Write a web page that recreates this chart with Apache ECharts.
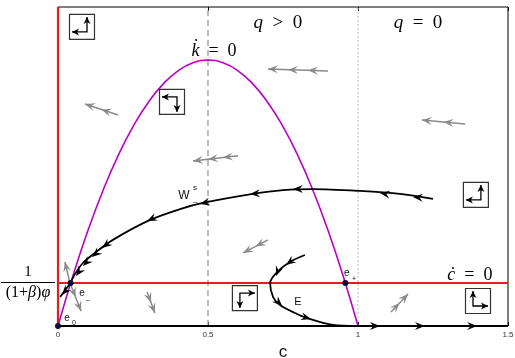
<!DOCTYPE html>
<html>
<head>
<meta charset="utf-8">
<script src="https://cdn.jsdelivr.net/npm/echarts@6/dist/echarts.min.js"></script>
</head>
<body style="margin:0">
<div id="container" style="width:515px;height:358px"></div>
<script>
// phase diagram (c, k)
var xTicks = [0, 0.5, 1, 1.5];
var kStar = 0.162;   // 1/((1+beta)phi)

// k-dot = 0 curve
var kNull = [[0,0],[0.05,0.19],[0.1,0.36],[0.15,0.51],[0.2,0.64],[0.25,0.75],[0.3,0.84],[0.35,0.91],[0.4,0.96],[0.45,0.99],[0.5,1.0],
  [0.55,0.99],[0.6,0.96],[0.65,0.91],[0.7,0.84],[0.75,0.75],[0.8,0.64],[0.85,0.51],[0.9,0.36],[0.95,0.19],[1.0,0]];
// stable manifold W_-^s
var wStable = [[1.25,0.478],[1.14,0.497],[1.007,0.508],[0.85,0.515],[0.75,0.511],[0.65,0.497],[0.483,0.463],[0.407,0.44],
  [0.307,0.399],[0.183,0.324],[0.123,0.275],[0.083,0.237],[0.057,0.196],[0.0417,0.162]];
var wTail = [[0.0417,0.162],[0.025,0.136],[0.007,0.109]];
// orbit E
var orbitE = [[0.823,0.267],[0.773,0.241],[0.73,0.203],[0.707,0.162],[0.717,0.109],[0.74,0.079],[0.79,0.049],
  [0.83,0.03],[0.917,0.004],[1.0,0]];
var floorLine = [[0,0],[1,0],[1.5,0]];
var equilibria = [[0,0],[0.0417,0.162],[0.958,0.162]];

// arrowheads on trajectories: [c from, k from, c tip, k tip]
var trajArrows = [
  [1.223,0.482,1.183,0.485],[1.113,0.493,1.073,0.5],[0.823,0.515,0.783,0.515],[0.68,0.5,0.64,0.497],
  [0.513,0.47,0.473,0.459],[0.333,0.414,0.297,0.395],[0.173,0.316,0.147,0.293],[0.137,0.282,0.113,0.26],
  [0.103,0.248,0.083,0.226],[0.077,0.214,0.06,0.188],[0.027,0.135,0.013,0.117],
  [0.787,0.252,0.76,0.229],[0.737,0.218,0.727,0.188],[0.723,0.102,0.747,0.075],[0.807,0.038,0.843,0.026],
  [1.02,0,1.073,0],[1.17,0,1.223,0],[1.344,0,1.397,0]
];
// direction field: [c tail, k tail, c tip, k tip, heads]
var fieldArrows = [
  [0.2,0.794,0.09,0.835,2],[0.9,0.959,0.7,0.967,3],[0.6,0.64,0.45,0.621,3],[1.357,0.76,1.213,0.775,2],
  [0.7,0.324,0.617,0.275,2],[0.297,0.128,0.323,0.049,2],[0.04,0.162,0.023,0.241,1],[0.04,0.162,0.077,0.056,2],
  [1.11,0.053,1.167,0.12,2]
];
// region boxes: [c, k, horizontal sign, vertical sign]
var boxes = [[0.08,1.125,-1,1],[0.38,0.843,-1,-1],[1.393,0.493,-1,1],[0.623,0.105,1,-1],[1.4,0.094,1,1]];

var mathNotes = [[0.733,1.14,'{i|q}{r|  >  0}'],[1.2,1.14,'{i|q}{r|  =  0}'],
  [0.52,1.035,'{j|k\u0307}{s|  =  0}'],[1.373,0.192,'{j|c\u0307}{s|  =  0}']];
var tags = [[0.42,0.489,'W',12],[0.457,0.52,'s',8],[0.457,0.466,'\u2013',8],[0.8,0.09,'E',11],
  [0.963,0.199,'e',10],[0.987,0.177,'+',7],[0.08,0.124,'e',10],[0.1,0.098,'\u2013',7],[0.03,0.03,'e',10],[0.053,0.011,'0',7]];

function headPts(p, q, len, w, notch) {
  var dx = q[0] - p[0], dy = q[1] - p[1];
  var d = Math.sqrt(dx * dx + dy * dy) || 1;
  var ux = dx / d, uy = dy / d, nx = -uy, ny = ux;
  var bx = q[0] - ux * len, by = q[1] - uy * len;
  return [[q[0], q[1]], [bx + nx * w, by + ny * w], [q[0] - ux * (len - notch), q[1] - uy * (len - notch)], [bx - nx * w, by - ny * w]];
}

var dom = document.getElementById('container');
var myChart = echarts.init(dom);
var lineBase = { type: 'line', showSymbol: false, symbol: 'none', silent: true, z: 3 };

var option = {
  animation: false,
  grid: { left: 58, right: 7, top: 7, bottom: 32, show: true, borderColor: '#000', borderWidth: 1, backgroundColor: '#fff',
    containLabel: false, outerBoundsMode: 'none' },
  xAxis: [{
    type: 'value', min: 0, max: 1.5, interval: 0.5,
    name: 'c', nameLocation: 'middle', nameGap: 17,
    nameTextStyle: { fontSize: 17, color: '#111', fontFamily: 'Liberation Sans' },
    axisLine: { show: false },
    axisTick: { show: true, inside: true, length: 4, lineStyle: { color: '#000' } },
    splitLine: { show: false },
    axisLabel: { fontSize: 8, color: '#333', margin: 5, fontFamily: 'Liberation Sans',
      formatter: function (v) { return xTicks.indexOf(v) >= 0 ? String(v) : ''; } }
  }, {
    type: 'value', position: 'top', min: 0, max: 1.5, interval: 0.5,
    axisLine: { show: false }, axisLabel: { show: false }, splitLine: { show: false },
    axisTick: { show: true, inside: true, length: 4, lineStyle: { color: '#000' } }
  }],
  yAxis: {
    type: 'value', min: 0, max: 1.2,
    name: 'k', nameLocation: 'middle', nameGap: 13, nameRotate: 90,
    nameTextStyle: { fontSize: 17, color: '#111', fontFamily: 'Liberation Sans' },
    axisLine: { show: false }, axisTick: { show: false }, splitLine: { show: false },
    axisLabel: {
      customValues: [kStar], align: 'center', margin: 30,
      formatter: function () { return '{n|1}\n{b| }\n{d|(1+}{g|\u03b2}{d|)}{g|\u03c6}'; },
      rich: {
        n: { fontSize: 15, fontFamily: 'Liberation Serif', color: '#000', lineHeight: 15 },
        b: { fontSize: 1, width: 54, height: 1, lineHeight: 5, backgroundColor: '#000' },
        d: { fontSize: 16, fontFamily: 'Liberation Serif', color: '#000', lineHeight: 16 },
        g: { fontSize: 16, fontFamily: 'Liberation Serif', fontStyle: 'italic', color: '#000', lineHeight: 16 }
      }
    }
  },
  series: [
    Object.assign({}, lineBase, { data: [[0.5,0],[0.5,1.2]], lineStyle: { color: '#999', width: 1.3, type: [6, 4] }, z: 2 }),
    Object.assign({}, lineBase, { data: [[1,0],[1,1.2]], lineStyle: { color: '#bbb', width: 1, type: [2, 2] }, z: 2 }),
    Object.assign({}, lineBase, { data: kNull, smooth: true, lineStyle: { color: '#bb00c8', width: 1.6 } }),
    Object.assign({}, lineBase, { data: [[0,kStar],[1.5,kStar]], lineStyle: { color: '#dd2020', width: 2 } }),
    Object.assign({}, lineBase, { data: [[0,0],[0,1.2]], lineStyle: { color: '#dd2020', width: 2.2 } }),
    Object.assign({}, lineBase, { data: wStable, smooth: 0.3, lineStyle: { color: '#000', width: 1.8 }, z: 4 }),
    Object.assign({}, lineBase, { data: wTail, lineStyle: { color: '#000', width: 1.8 }, z: 4 }),
    Object.assign({}, lineBase, { data: orbitE, smooth: 0.3, lineStyle: { color: '#000', width: 1.8 }, z: 4 }),
    Object.assign({}, lineBase, { data: floorLine, lineStyle: { color: '#000', width: 2 }, z: 4 }),
    {
      type: 'custom', data: trajArrows, z: 5, silent: true,
      encode: { x: [0, 2], y: [1, 3] },
      renderItem: function (params, api) {
        var p = api.coord([api.value(0), api.value(1)]), q = api.coord([api.value(2), api.value(3)]);
        return { type: 'polygon', shape: { points: headPts(p, q, 10, 4, 3.5) }, style: { fill: '#000' } };
      }
    },
    {
      type: 'custom', data: fieldArrows, z: 5, silent: true,
      encode: { x: [0, 2], y: [1, 3] },
      renderItem: function (params, api) {
        var p = api.coord([api.value(0), api.value(1)]), q = api.coord([api.value(2), api.value(3)]);
        var n = api.value(4);
        var dx = p[0] - q[0], dy = p[1] - q[1];
        var kids = [{ type: 'line', shape: { x1: p[0], y1: p[1], x2: q[0], y2: q[1] }, style: { stroke: '#8a8a8a', lineWidth: 1.5 } }];
        for (var i = 0; i < n; i++) {
          var t = i / n;
          var tip = [q[0] + dx * t, q[1] + dy * t];
          kids.push({ type: 'polygon', shape: { points: headPts(p, tip, 10, 4, 4) }, style: { fill: '#8a8a8a' } });
        }
        return { type: 'group', children: kids };
      }
    },
    {
      type: 'custom', data: boxes, z: 5, silent: true,
      encode: { x: 0, y: 1 },
      renderItem: function (params, api) {
        var c = api.coord([api.value(0), api.value(1)]);
        var hx = api.value(2), vy = -api.value(3);
        var h = 12.5;
        var corner = [c[0] - hx * 5, c[1] - vy * 5];
        var ht = [corner[0] + hx * 15, corner[1]], vt = [corner[0], corner[1] + vy * 15];
        return { type: 'group', children: [
          { type: 'rect', shape: { x: c[0] - h, y: c[1] - h, width: 2 * h, height: 2 * h }, style: { fill: '#fff', stroke: '#333', lineWidth: 1.2 } },
          { type: 'polyline', shape: { points: [ht, corner, vt] }, style: { stroke: '#000', lineWidth: 1.3, fill: null } },
          { type: 'polygon', shape: { points: headPts(corner, ht, 7, 3.5, 2) }, style: { fill: '#000' } },
          { type: 'polygon', shape: { points: headPts(corner, vt, 7, 3.5, 2) }, style: { fill: '#000' } }
        ] };
      }
    },
    {
      type: 'scatter', data: equilibria, symbolSize: 6, z: 6, silent: true,
      itemStyle: { color: '#0b0b3b', opacity: 1 }
    },
    {
      type: 'scatter', symbolSize: 0, z: 6, silent: true,
      itemStyle: { opacity: 1 },
      data: mathNotes.map(function (m) { return { value: [m[0], m[1]], name: m[2] }; }),
      label: {
        show: true, position: 'inside', formatter: '{b}', opacity: 1,
        rich: {
          i: { fontFamily: 'Liberation Serif', fontStyle: 'italic', fontSize: 19, color: '#000' },
          r: { fontFamily: 'Liberation Serif', fontSize: 19, color: '#000' },
          j: { fontFamily: 'Liberation Serif', fontStyle: 'italic', fontSize: 18, color: '#000' },
          s: { fontFamily: 'Liberation Serif', fontSize: 18, color: '#000' }
        }
      }
    },
    {
      type: 'scatter', symbolSize: 0, z: 6, silent: true,
      itemStyle: { opacity: 1 },
      data: tags.map(function (m) {
        return { value: [m[0], m[1]], name: m[2], label: { fontSize: m[3] } };
      }),
      label: { show: true, position: 'inside', formatter: '{b}', color: '#111', opacity: 1, fontFamily: 'Liberation Sans' }
    }
  ]
};

myChart.setOption(option);
</script>
</body>
</html>
